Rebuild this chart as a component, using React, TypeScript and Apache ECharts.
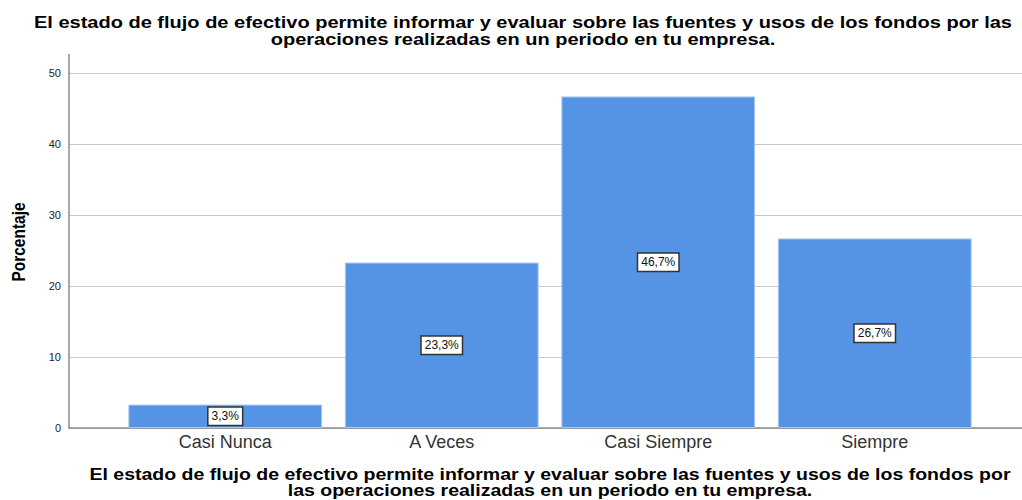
import React, { useEffect, useRef } from "react";
import * as echarts from "echarts";

const categories = ["Casi Nunca", "A Veces", "Casi Siempre", "Siempre"];
const values = [3.3, 23.3, 46.7, 26.7];
const yTicks = { min: 0, max: 50, interval: 10 };
const titleLines = [
  "El estado de flujo de efectivo permite informar y evaluar sobre las fuentes y usos de los fondos por las",
  "operaciones realizadas en un periodo en tu empresa.",
];
const xTitleLines = [
  "El estado de flujo de efectivo permite informar y evaluar sobre las fuentes y usos de los fondos por",
  "las operaciones realizadas en un periodo en tu empresa.",
];
const yTitle = "Porcentaje";

const FONT = "'Liberation Sans', Arial, sans-serif";

export default function App() {
  const ref = useRef<HTMLDivElement>(null);
  useEffect(() => {
    if (!ref.current) return;
    const chart = echarts.init(ref.current, null, { renderer: "svg" });
    chart.setOption({
      animation: false,
      backgroundColor: "#ffffff",
      textStyle: { fontFamily: FONT },
      grid: [
        { left: 69, right: 0, top: 73, bottom: 72 },
        { left: 117, right: 39, top: 73, bottom: 72 },
      ],
      xAxis: [
        {
          type: "value",
          gridIndex: 0,
          min: 0,
          max: 1,
          axisLine: { show: true, lineStyle: { color: "#8c8c8c", width: 1.5 } },
          axisTick: { show: false },
          axisLabel: { show: false },
          splitLine: { show: false },
        },
        {
          type: "category",
          gridIndex: 1,
          data: categories,
          axisLine: { show: false },
          axisTick: { show: false },
          axisLabel: { color: "#333", fontSize: 18, margin: 5, fontFamily: FONT },
        },
      ],
      yAxis: [
        {
          type: "value",
          gridIndex: 0,
          min: yTicks.min,
          max: yTicks.max,
          interval: yTicks.interval,
          axisLine: { show: true, lineStyle: { color: "#8c8c8c", width: 1.5 } },
          axisTick: { show: false },
          axisLabel: { color: "#222", fontSize: 11, margin: 8, fontFamily: FONT },
          splitLine: { show: true, lineStyle: { color: "#c8c8c8", width: 1 } },
        },
        {
          type: "value",
          gridIndex: 1,
          min: yTicks.min,
          max: yTicks.max,
          interval: yTicks.interval,
          show: false,
          splitLine: { show: false },
        },
      ],
      series: [
        {
          type: "bar",
          xAxisIndex: 1,
          yAxisIndex: 1,
          data: values,
          barWidth: "89.5%",
          itemStyle: { color: "#5594e4", borderColor: "#a9c8f0", borderWidth: 1 },
          label: {
            show: true,
            position: "inside",
            formatter: (p: any) => String(p.value).replace(".", ",") + "%",
            color: "#111",
            fontSize: 12,
            fontFamily: FONT,
            backgroundColor: "#ffffff",
            borderColor: "#333",
            borderWidth: 1.5,
            padding: [3, 3, 2, 3],
          },
        },
      ],
      graphic: [
        {
          type: "line",
          shape: { x1: 69, y1: 54, x2: 69, y2: 73 },
          style: { stroke: "#8c8c8c", lineWidth: 1.5 },
        },
        {
          type: "text",
          x: 523,
          y: 14,
          scaleX: 1.25,
          style: {
            text: titleLines.join("\n"),
            fontFamily: FONT,
            fontWeight: "bold",
            fontSize: 16,
            lineHeight: 17,
            fill: "#000",
            align: "center",
          },
        },
        {
          type: "text",
          x: 550,
          y: 467,
          scaleX: 1.22,
          style: {
            text: xTitleLines.join("\n"),
            fontFamily: FONT,
            fontWeight: "bold",
            fontSize: 16,
            lineHeight: 16,
            fill: "#000",
            align: "center",
          },
        },
        {
          type: "text",
          x: 10,
          y: 242,
          rotation: Math.PI / 2,
          scaleX: 0.86,
          style: {
            text: yTitle,
            fontFamily: FONT,
            fontWeight: "bold",
            fontSize: 18,
            fill: "#000",
            align: "center",
            verticalAlign: "top",
          },
        },
      ],
    });
    return () => chart.dispose();
  }, []);
  return <div ref={ref} style={{ width: 1022, height: 500, position: "absolute", left: 0, top: 0 }} />;
}
